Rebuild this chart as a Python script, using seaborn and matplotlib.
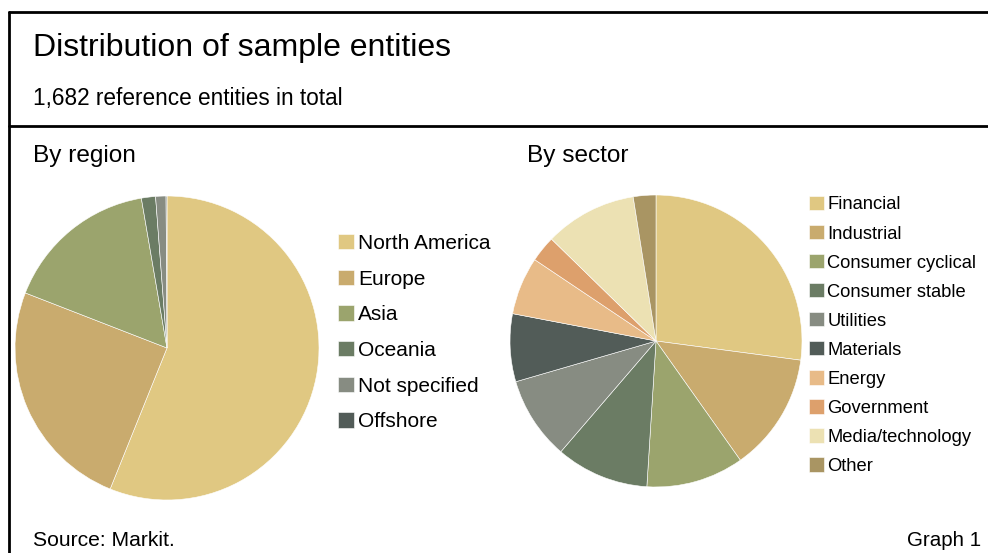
import matplotlib
matplotlib.use('Agg')
import matplotlib.pyplot as plt
from matplotlib.lines import Line2D
import seaborn as sns

sns.set_theme(style='white')
plt.rcParams['font.family'] = ['Liberation Sans', 'DejaVu Sans']
plt.rcParams['text.color'] = 'black'

# --- Data ---
region_labels = ['North America', 'Europe', 'Asia', 'Oceania', 'Not specified', 'Offshore']
region_share = [56.1, 24.8, 16.4, 1.5, 1.1, 0.1]

sector_labels = ['Financial', 'Industrial', 'Consumer cyclical', 'Consumer stable', 'Utilities',
                 'Materials', 'Energy', 'Government', 'Media/technology', 'Other']
sector_share = [27.1, 13.1, 10.8, 10.3, 9.2, 7.5, 6.4, 2.9, 10.2, 2.5]

colors = ['#E0C882', '#C9AB6E', '#9BA46D', '#6B7C64', '#878C82',
          '#525C58', '#E8BB88', '#DDA06C', '#ECE1B3', '#A99563']
palette = sns.color_palette(colors)

W, H = 988, 553
fig = plt.figure(figsize=(W / 100, H / 100), dpi=100)


def px_axes(cx, cy, r):
    # axes sized to the pie's bounding square, given in pixel coords (top-left origin)
    return fig.add_axes([(cx - r) / W, 1 - (cy + r) / H, 2 * r / W, 2 * r / H])


def draw_pie(ax, values, cols):
    wedges, _ = ax.pie(values, colors=cols, startangle=90, counterclock=False,
                       wedgeprops=dict(edgecolor='white', linewidth=0.4))
    ax.set_xlim(-1, 1)
    ax.set_ylim(-1, 1)
    ax.set_aspect('equal')
    ax.axis('off')
    return wedges


# By region
ax1 = px_axes(167, 348, 152)
w1 = draw_pie(ax1, region_share, palette[:len(region_share)])
fig.legend(w1, region_labels, loc='upper left', bbox_to_anchor=(338 / W, 1 - 234 / H),
           frameon=False, fontsize=15, handlelength=0.75, handleheight=0.75,
           handletextpad=0.2, labelspacing=0.8, borderpad=0, borderaxespad=0,
           labelcolor='black')

# By sector
ax2 = px_axes(656, 341, 146)
w2 = draw_pie(ax2, sector_share, palette)
fig.legend(w2, sector_labels, loc='upper left', bbox_to_anchor=(809 / W, 1 - 196 / H),
           frameon=False, fontsize=13.2, handlelength=0.82, handleheight=0.82,
           handletextpad=0.18, labelspacing=0.63, borderpad=0, borderaxespad=0,
           labelcolor='black')

# --- Texts ---
def ftext(x, y, s, size, ha='left'):
    fig.text(x / W, 1 - y / H, s, fontsize=size, ha=ha, va='baseline', color='black')


ftext(33, 56, 'Distribution of sample entities', 23)
ftext(33, 105, '1,682 reference entities in total', 16.3)
ftext(33, 162, 'By region', 17.6)
ftext(527, 162, 'By sector', 17.6)
ftext(33, 546, 'Source: Markit.', 15.2)
ftext(981, 546, 'Graph 1', 14.8, ha='right')

# --- Frame lines ---
lw = 2
fig.add_artist(Line2D([9 / W, 1], [1 - 12 / H, 1 - 12 / H], color='black', lw=lw))
fig.add_artist(Line2D([9 / W, 1], [1 - 126 / H, 1 - 126 / H], color='black', lw=lw))
fig.add_artist(Line2D([9 / W, 9 / W], [0, 1 - 12 / H], color='black', lw=lw))

fig.savefig('out.png', dpi=100, facecolor='white')
